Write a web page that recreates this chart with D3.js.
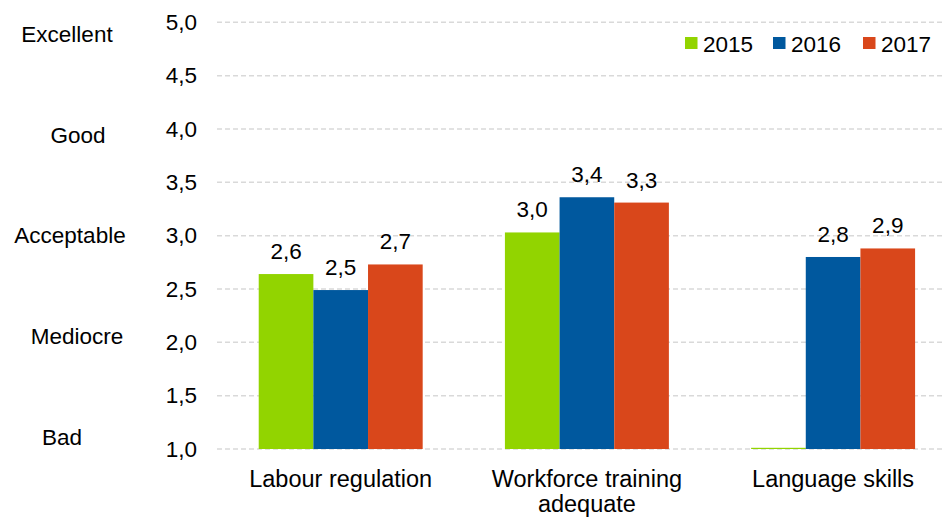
<!DOCTYPE html>
<html>
<head>
<meta charset="utf-8">
<script src="https://cdn.jsdelivr.net/npm/d3@7/dist/d3.min.js"></script>
<style>
  html, body { margin: 0; padding: 0; background: #fff; }
  svg { display: block; font-family: "Liberation Sans", Arial, sans-serif; }
</style>
</head>
<body>
<svg id="chart" width="944" height="519"></svg>
<script>
// Survey scores by topic and year (scale 1 = bad, 5 = excellent)
const categories = ["Labour regulation", "Workforce training adequate", "Language skills"];
const categoryLines = [["Labour regulation"], ["Workforce training", "adequate"], ["Language skills"]];
const years = ["2015", "2016", "2017"];
const values2015 = [2.64, 3.03, 1.0];
const values2016 = [2.49, 3.36, 2.80];
const values2017 = [2.73, 3.31, 2.88];
const yTicks = [1.0, 1.5, 2.0, 2.5, 3.0, 3.5, 4.0, 4.5, 5.0];
const ratingLabels = ["Bad", "Mediocre", "Acceptable", "Good", "Excellent"];
const ratingLevels = [1, 2, 3, 4, 5];
const colors = ["#92d400", "#00589e", "#d9471b"];

const seriesValues = [values2015, values2016, values2017];
const rows = categories.map((c, i) => ({
  category: c,
  lines: categoryLines[i],
  bars: years.map((yr, j) => ({ year: yr, value: seriesValues[j][i], color: colors[j] }))
}));

const svg = d3.select("#chart");
const fmt = v => d3.format(".1f")(v).replace(".", ",");

const y = d3.scaleLinear().domain([1, 5]).range([449, 22.3]);
const x0 = d3.scaleBand().domain(categories).range([217.6, 956.2]).paddingInner(0.334).paddingOuter(0.167);
const x1 = d3.scaleBand().domain(years).range([0, x0.bandwidth()]);

// dashed horizontal gridlines
svg.append("g").selectAll("line").data(yTicks).join("line")
  .attr("x1", 217).attr("x2", 944)
  .attr("y1", d => y(d)).attr("y2", d => y(d))
  .attr("stroke", "#d9d9d9").attr("stroke-width", 1.5)
  .attr("stroke-dasharray", "5,3");

// y tick labels
const yAxis = d3.axisLeft(y).tickValues(yTicks).tickSize(0).tickPadding(0).tickFormat(fmt);
const yAxisG = svg.append("g").attr("transform", "translate(197,0)").call(yAxis);
yAxisG.select(".domain").remove();
yAxisG.selectAll("text").attr("font-size", 22.5).attr("fill", "#000")
  .attr("font-family", "'Liberation Sans', Arial, sans-serif");

// verbal rating column, evenly spread along the axis
const rating = d3.scaleLinear().domain([1, 5]).range([437, 34]);
const ratingX = [62, 77, 70, 78, 67];
svg.append("g").selectAll("text").data(ratingLabels).join("text")
  .attr("x", (d, i) => ratingX[i])
  .attr("y", (d, i) => rating(ratingLevels[i]))
  .attr("dy", "0.35em")
  .attr("text-anchor", "middle")
  .attr("font-size", 22.5)
  .text(d => d);

// bars
const groups = svg.append("g").selectAll("g").data(rows).join("g")
  .attr("transform", d => `translate(${x0(d.category)},0)`);

groups.selectAll("rect").data(d => d.bars).join("rect")
  .attr("x", d => x1(d.year))
  .attr("width", x1.bandwidth())
  .attr("y", d => Math.min(y(d.value), y(1) - 1.2))
  .attr("height", d => Math.max(y(1) - y(d.value), 1.2))
  .attr("fill", d => d.color);

// value labels
groups.selectAll("text.val").data(d => d.bars.filter(b => b.value > 1)).join("text")
  .attr("class", "val")
  .attr("x", d => x1(d.year) + x1.bandwidth() / 2)
  .attr("y", d => y(d.value) - 15)
  .attr("text-anchor", "middle")
  .attr("font-size", 22.5)
  .text(d => fmt(d.value));

// category labels
const catG = svg.append("g").selectAll("text").data(rows).join("text")
  .attr("x", d => x0(d.category) + x0.bandwidth() / 2)
  .attr("y", 487.3)
  .attr("text-anchor", "middle")
  .attr("font-size", 23.5);
catG.selectAll("tspan").data(d => d.lines).join("tspan")
  .attr("x", function() { return d3.select(this.parentNode).attr("x"); })
  .attr("dy", (d, i) => i === 0 ? 0 : 24.5)
  .text(d => d);

// legend
const legendX = [685, 773, 863];
const legend = svg.append("g").selectAll("g").data(years).join("g")
  .attr("transform", (d, i) => `translate(${legendX[i]},37)`);
legend.append("rect").attr("width", 12.5).attr("height", 12).attr("fill", (d, i) => colors[i]);
legend.append("text").attr("x", 18).attr("y", 14.7).attr("font-size", 22.5).text(d => d);
</script>
</body>
</html>
